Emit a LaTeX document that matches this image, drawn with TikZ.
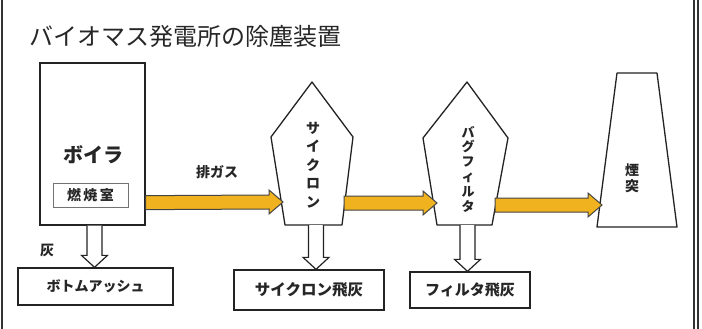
\documentclass[tikz,border=0pt]{standalone}
\usepackage{fontspec}
\newfontfamily\jp{Noto Sans CJK JP}
\usetikzlibrary{calc}
\definecolor{gold}{RGB}{240,178,30}
\definecolor{edge}{RGB}{35,35,35}
\tikzset{
  box/.style={draw=edge, line width=1.3pt, fill=white, inner sep=0pt},
  lbl/.style={font=\jp\bfseries\fontsize{14}{16}\selectfont, text=black!85, inner sep=0pt},
  vlbl/.style={lbl, align=center},
  equip/.style={draw=edge, line width=1.3pt, fill=white, line join=round},
  gas/.style={draw=edge!85, line width=1pt, fill=gold},
  ash/.style={draw=edge, line width=1.2pt, fill=white},
  frame/.style={draw=black!80, line width=1.2pt}
}
\newcommand{\gasarrow}[2]{\path[gas] ($(#1)+(0,-7)$) -- ($(#2)+(-14,-7)$) -- ($(#2)+(-14,-12)$) -- (#2) -- ($(#2)+(-14,12)$) -- ($(#2)+(-14,7)$) -- ($(#1)+(0,7)$) -- cycle;}
\newcommand{\asharrow}[2]{\path[ash] ($(#1)+(-7.5,0)$) -- ($(#2)+(-7.5,-12)$) -- ($(#2)+(-13,-12)$) -- (#2) -- ($(#2)+(13,-12)$) -- ($(#2)+(7.5,-12)$) -- ($(#1)+(7.5,0)$);}
\begin{document}
\begin{tikzpicture}[x=1pt,y=-1pt]
\useasboundingbox (0,0) rectangle (702,329);
% frame
\draw[frame] (2,0) -- (2,329);
\draw[frame] (694,0) -- (694,329);
\draw[frame] (698,0) -- (698,329);
% title
\node[anchor=west, inner sep=0pt, font=\jp\fontsize{24}{24}\selectfont, text=black!85] (title) at (29,36) {バイオマス発電所の除塵装置};
% boiler
\node[box, minimum width=105pt, minimum height=162pt] (boiler) at (92.5,144) {};
\node[lbl, font=\jp\bfseries\fontsize{20}{20}\selectfont] (boilerT) at (93,155) {ボイラ};
\node[lbl, draw=black!55, line width=0.9pt, minimum width=75pt, minimum height=24pt] (ro) at (90.5,195) {燃\,焼\,室};
\node[lbl] (gasT) at (217,172) {排ガス};
\node[lbl] (haiT) at (47,250) {灰};
% ash boxes
\node[box, lbl, draw=edge, line width=1.3pt, minimum width=155pt, minimum height=37pt] (bottom) at (95.5,286.5) {ボトムアッシュ};
\node[box, lbl, draw=edge, line width=1.3pt, minimum width=150pt, minimum height=40pt, font=\jp\bfseries\fontsize{15.5}{16}\selectfont] (cycash) at (309,290) {サイクロン飛灰};
\node[box, lbl, draw=edge, line width=1.3pt, minimum width=120pt, minimum height=36pt, font=\jp\bfseries\fontsize{15}{16}\selectfont] (filtash) at (470,290) {フィルタ飛灰};
% cyclone
\coordinate (cA) at (312,82);
\coordinate (cL) at (271,137);
\coordinate (cR) at (353,137);
\coordinate (cBL) at (285,225);
\coordinate (cBR) at (342,225);
\draw[equip] (cA) -- (cR) -- (cBR) -- (cBL) -- (cL) -- cycle;
\node[vlbl, font=\jp\bfseries\fontsize{14}{18.5}\selectfont] (cycT) at (313,165) {サ\\イ\\ク\\ロ\\ン};
% bag filter
\coordinate (fA) at (467,82);
\coordinate (fL) at (423,138);
\coordinate (fR) at (508,138);
\coordinate (fBL) at (437,225);
\coordinate (fBR) at (492,225);
\draw[equip] (fA) -- (fR) -- (fBR) -- (fBL) -- (fL) -- cycle;
\node[vlbl, font=\jp\bfseries\fontsize{13}{14.8}\selectfont] (filT) at (468,169) {バ\\グ\\フ\\ィ\\ル\\タ};
% chimney
\coordinate (sTL) at (617,73);
\coordinate (sTR) at (657,73);
\coordinate (sBR) at (677,227);
\coordinate (sBL) at (597,227);
\draw[equip] (sTL) -- (sTR) -- (sBR) -- (sBL) -- cycle;
\node[vlbl, font=\jp\bfseries\fontsize{14}{16}\selectfont] (stT) at (632,178) {煙\\突};
% gas arrows
\coordinate (g1s) at ($(boiler.south east)+(0,-23)$);
\coordinate (g1e) at (283,202);
\coordinate (g2s) at (344,203);
\coordinate (g2e) at (437,203);
\coordinate (g3s) at (495,205);
\coordinate (g3e) at (602,205);
\gasarrow{g1s}{g1e}
\gasarrow{g2s}{g2e}
\gasarrow{g3s}{g3e}
% ash arrows
\coordinate (a1s) at ($(boiler.south)+(2,0)$);
\coordinate (a2s) at (316,225);
\coordinate (a3s) at (467.5,225);
\asharrow{a1s}{a1s |- bottom.north}
\asharrow{a2s}{a2s |- cycash.north}
\asharrow{a3s}{a3s |- filtash.north}
\end{tikzpicture}
\end{document}
